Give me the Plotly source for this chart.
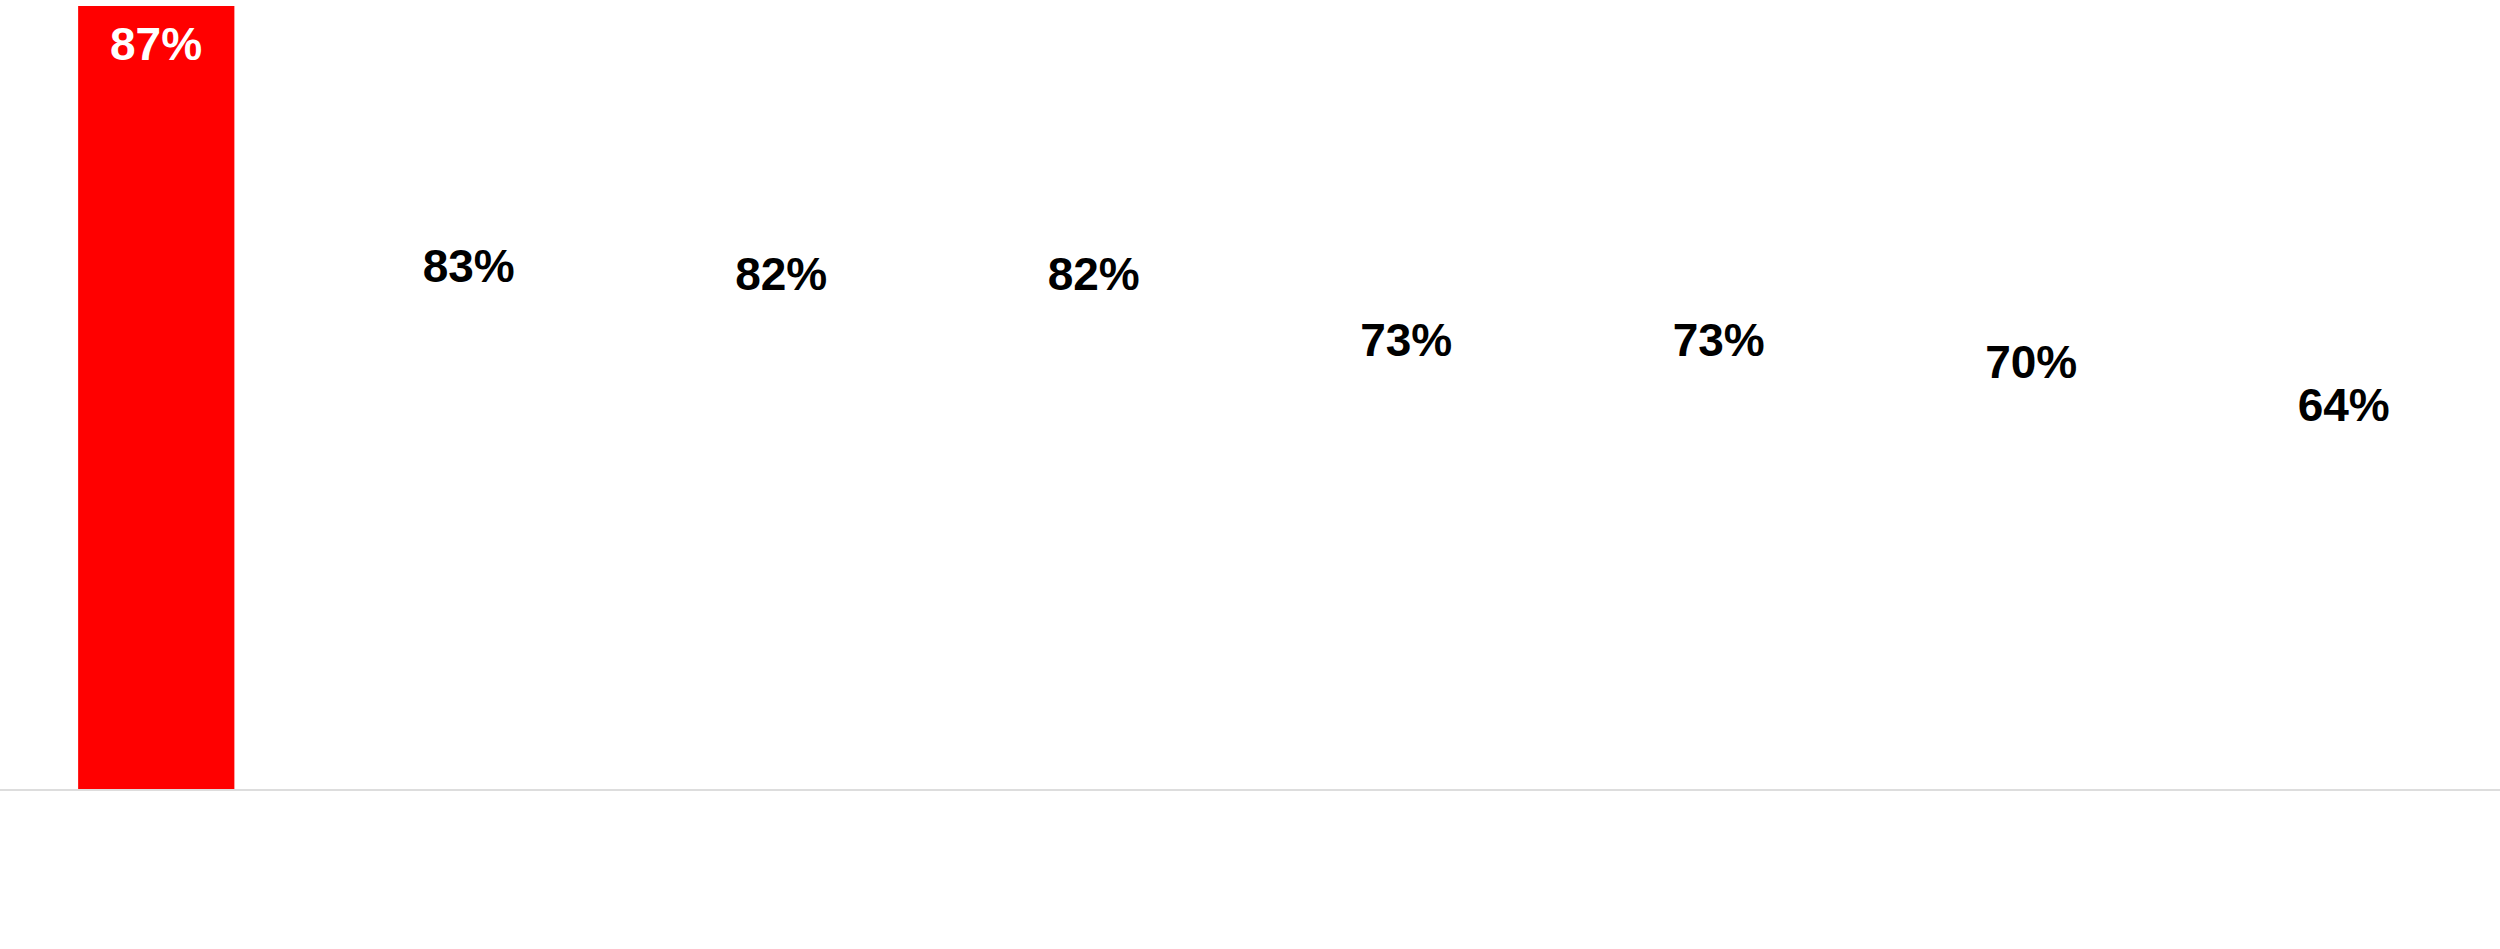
import plotly.graph_objects as go

categories = ["A", "B", "C", "D", "E", "F", "G", "H"]
values = [87, 83, 82, 82, 73, 73, 70, 64]
labels = ["87%", "83%", "82%", "82%", "73%", "73%", "70%", "64%"]

RED = "#ff0000"
FONT = "Liberation Sans"

fig = go.Figure()

# only the leading bar is drawn, the rest are still hidden
bar_colors = [RED] + ["rgba(0,0,0,0)"] * (len(values) - 1)
fig.add_trace(go.Bar(
    x=categories, y=values,
    marker=dict(color=bar_colors, line=dict(width=0)),
    hoverinfo="skip",
))

# labels of the hidden bars, on their own scale
fig.add_trace(go.Scatter(
    x=categories[1:], y=values[1:], yaxis="y2",
    mode="text", text=labels[1:], textposition="middle center",
    textfont=dict(family=FONT, size=46, color="#000000", weight="bold"),
    hoverinfo="skip",
))

fig.add_annotation(
    x=categories[0], y=values[0], xref="x", yref="y",
    text=labels[0], showarrow=False, yanchor="middle", yshift=-38,
    font=dict(family=FONT, size=46, color="#ffffff", weight="bold"),
)

fig.update_layout(
    width=2500, height=949,
    margin=dict(l=0, r=0, t=6, b=160),
    paper_bgcolor="white", plot_bgcolor="white",
    showlegend=False, bargap=0.5,
    xaxis=dict(showticklabels=False, showgrid=False, ticks="",
               showline=True, linecolor="#dddddd", linewidth=2),
    yaxis=dict(range=[0, 87], visible=False, showgrid=False, zeroline=False),
    yaxis2=dict(range=[12.2, 119.2], overlaying="y", visible=False,
                showgrid=False, zeroline=False),
)

fig.write_html("out.html", config={"displayModeBar": False},
               post_script="document.body.style.margin='0';")
